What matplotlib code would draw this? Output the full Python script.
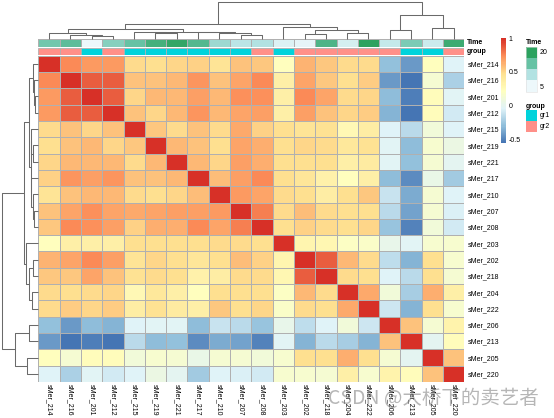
import numpy as np
import matplotlib
matplotlib.use("Agg")
import matplotlib.pyplot as plt
from matplotlib.colors import LinearSegmentedColormap, Normalize
from matplotlib.patches import Rectangle

# ---------------- data ----------------
samples = ["sMer_214", "sMer_216", "sMer_201", "sMer_212", "sMer_215", "sMer_219",
           "sMer_221", "sMer_217", "sMer_210", "sMer_207", "sMer_208", "sMer_203",
           "sMer_202", "sMer_218", "sMer_204", "sMer_222", "sMer_206", "sMer_213",
           "sMer_205", "sMer_220"]

# lower triangle of the correlation matrix (row i, columns 0..i-1), diagonal = 1
corr_lower = [
    [],
    [0.74],
    [0.70, 0.87],
    [0.69, 0.87, 0.86],
    [0.50, 0.57, 0.51, 0.57],
    [0.48, 0.57, 0.60, 0.51, 0.56],
    [0.51, 0.60, 0.61, 0.61, 0.50, 0.60],
    [0.52, 0.71, 0.68, 0.71, 0.57, 0.57, 0.60],
    [0.45, 0.57, 0.60, 0.61, 0.50, 0.48, 0.51, 0.58],
    [0.57, 0.66, 0.73, 0.66, 0.65, 0.66, 0.68, 0.68, 0.70],
    [0.56, 0.75, 0.72, 0.68, 0.53, 0.64, 0.64, 0.74, 0.66, 0.78],
    [0.22, 0.36, 0.36, 0.36, 0.47, 0.48, 0.48, 0.48, 0.50, 0.49, 0.48],
    [0.62, 0.66, 0.74, 0.68, 0.45, 0.51, 0.47, 0.43, 0.47, 0.59, 0.53, 0.30],
    [0.56, 0.56, 0.66, 0.57, 0.46, 0.49, 0.47, 0.33, 0.37, 0.50, 0.50, 0.29, 0.87],
    [0.50, 0.48, 0.50, 0.51, 0.28, 0.41, 0.36, 0.23, 0.48, 0.47, 0.47, 0.19, 0.60, 0.50],
    [0.49, 0.54, 0.51, 0.54, 0.37, 0.46, 0.38, 0.36, 0.55, 0.48, 0.51, 0.18, 0.50, 0.47, 0.65],
    [-0.29, -0.42, -0.31, -0.34, -0.03, -0.02, -0.02, -0.31, -0.11, -0.16, -0.27, 0.03,
     -0.15, -0.04, 0.11, -0.10],
    [-0.43, -0.56, -0.52, -0.55, -0.17, -0.31, -0.29, -0.47, -0.36, -0.40, -0.50, -0.02,
     -0.34, -0.17, -0.23, -0.33, 0.57],
    [0.23, 0.14, 0.24, 0.25, 0.10, 0.15, 0.13, 0.04, 0.13, 0.13, 0.11, 0.15, 0.47, 0.47,
     0.63, 0.47, 0.13, 0.0],
    [-0.03, -0.21, -0.02, -0.08, -0.03, 0.05, 0.0, -0.24, -0.03, -0.05, -0.08, 0.15, 0.15,
     0.14, 0.36, 0.15, 0.32, 0.24, 0.57],
]

time_values = [14, 16, 1, 12, 15, 19, 21, 17, 10, 7, 8, 3, 2, 18, 4, 22, 6, 13, 5, 20]
group_values = ["gr2", "gr2", "gr1", "gr2", "gr1", "gr1", "gr1", "gr1", "gr1", "gr1", "gr2",
                "gr1", "gr2", "gr2", "gr2", "gr2", "gr2", "gr1", "gr1", "gr2"]

# hierarchical clustering (same tree for rows and columns); leaves 0..19, nodes 20..38
link_left = [2, 1, 0, 5, 4, 9, 8, 7, 24, 22, 12, 14, 30, 11, 29, 16, 18, 35, 34]
link_right = [3, 20, 21, 6, 23, 10, 25, 26, 27, 28, 13, 15, 31, 32, 33, 17, 19, 36, 37]
link_height = [0.09, 0.107, 0.15, 0.15, 0.18, 0.10, 0.15, 0.18, 0.196, 0.26,
               0.125, 0.17, 0.24, 0.33, 0.39, 0.24, 0.29, 0.64, 1.0]

heat_colors = ["#4575B4", "#91BFDB", "#E0F3F8", "#FFFFBF", "#FEE090", "#FC8D59", "#D73027"]
time_colors = ["#EDF8FB", "#B2E2E2", "#66C2A4", "#2CA25F"]
group_colors = {"gr1": "#00D3DB", "gr2": "#FF9089"}

# ---------------- build ----------------
n = len(samples)
M = np.eye(n)
for i, row in enumerate(corr_lower):
    for j, v in enumerate(row):
        M[i, j] = v
        M[j, i] = v

W, H = 554, 418
fig = plt.figure(figsize=(W / 100, H / 100), dpi=100)
plt.rcParams['font.family'] = ['Liberation Sans', 'DejaVu Sans']
FS = 5
GRID = "#B0B0B0"


def ax_px(x0, y0, x1, y1):
    return fig.add_axes([x0 / W, 1 - y1 / H, (x1 - x0) / W, (y1 - y0) / H])


HX0, HX1, HY0, HY1 = 38.3, 464.3, 55.7, 382.0

cmap = LinearSegmentedColormap.from_list("rdylbu", heat_colors, N=100)
vmin, vmax = M.min(), M.max()

# heatmap
ax = ax_px(HX0, HY0, HX1, HY1)
mesh = ax.pcolormesh(np.arange(n + 1), np.arange(n + 1), M, cmap=cmap, vmin=vmin, vmax=vmax,
                     edgecolors=GRID, linewidth=0.6)
ax.set_xlim(0, n)
ax.set_ylim(n, 0)
for s in ax.spines.values():
    s.set_visible(False)
ax.set_xticks(np.arange(n) + 0.5)
ax.set_xticklabels(samples, rotation=-90, fontsize=FS, va="top", ha="center")
ax.yaxis.tick_right()
ax.set_yticks(np.arange(n) + 0.5)
ax.set_yticklabels(samples, fontsize=FS)
ax.tick_params(length=0, pad=1.5)
ax.tick_params(axis="y", pad=2.2)

# annotation bars
tnorm = Normalize(min(time_values), max(time_values))
tcmap = LinearSegmentedColormap.from_list("bugn4", time_colors, N=100)
ax_t = ax_px(HX0, 39.3, HX1, 46.5)
ax_t.pcolormesh(np.arange(n + 1), [0, 1], np.array([time_values]), cmap=tcmap, norm=tnorm,
                edgecolors=GRID, linewidth=0.6)
ax_g = ax_px(HX0, 47.6, HX1, 54.6)
for i, g in enumerate(group_values):
    ax_g.add_patch(Rectangle((i, 0), 1, 1, facecolor=group_colors[g], edgecolor=GRID, lw=0.6))
for a, lab in ((ax_t, "Time"), (ax_g, "group")):
    a.set_xlim(0, n)
    a.set_ylim(0, 1)
    a.axis("off")
    a.text(n + 0.12, 0.5, lab, fontsize=FS, fontweight="bold", va="center", ha="left",
           transform=a.transData)

# dendrograms
pos = {i: (i + 0.5, 0.0) for i in range(n)}
segs = []
for k, (a_, b_, h) in enumerate(zip(link_left, link_right, link_height)):
    xa, ha = pos[a_]
    xb, hb = pos[b_]
    segs.append(([xa, xa, xb, xb], [ha, h, h, hb]))
    pos[n + k] = ((xa + xb) / 2, h)

top = max(link_height) * 1.046
DC = "#6A6A6A"
ax_cd = ax_px(HX0, 0, HX1, 39.0)
ax_rd = ax_px(0, HY0, 38.0, HY1)
for xs, hs in segs:
    ax_cd.plot(xs, hs, color=DC, lw=0.75, clip_on=False, solid_capstyle="butt")
    ax_rd.plot(hs, xs, color=DC, lw=0.75, clip_on=False, solid_capstyle="butt")
ax_cd.set_xlim(0, n)
ax_cd.set_ylim(0, top)
ax_cd.axis("off")
ax_rd.set_ylim(n, 0)
ax_rd.set_xlim(top, 0)
ax_rd.axis("off")

# colour legend
cax = ax_px(501, 38.3, 506, 143.3)
cb = fig.colorbar(mesh, cax=cax)
cb.outline.set_visible(False)
cb.set_ticks([-0.5, 0, 0.5, 1])
cb.set_ticklabels(["-0.5", "0", "0.5", "1"])
cax.tick_params(length=0, labelsize=FS, pad=2)

# annotation legends
ov = fig.add_axes([0, 0, 1, 1])
ov.set_xlim(0, W)
ov.set_ylim(H, 0)
ov.axis("off")
ov.patch.set_alpha(0)
ov.text(525.7, 42, "Time", fontsize=FS, fontweight="bold", va="center", ha="left")
bh = 45 / len(time_colors)
for k, c in enumerate(reversed(time_colors)):
    ov.add_patch(Rectangle((525.7, 46.7 + k * bh), 11.3, bh, facecolor=c, edgecolor="none"))
ov.add_patch(Rectangle((525.7, 46.7), 11.3, 45, facecolor="none", edgecolor="#DDDDDD", lw=0.4))
ov.text(539.5, 53, "20", fontsize=FS, va="center", ha="left")
ov.text(539.5, 87.5, "5", fontsize=FS, va="center", ha="left")

ov.text(525.7, 106, "group", fontsize=FS, fontweight="bold", va="center", ha="left")
for k, g in enumerate(["gr1", "gr2"]):
    ov.add_patch(Rectangle((525.7, 110 + k * 10.8), 11.3, 10.8, facecolor=group_colors[g],
                           edgecolor="none"))
    ov.text(539.5, 115.4 + k * 10.8, g, fontsize=FS, va="center", ha="left")

# watermark (present in the reference image)
ov.text(328, 399, "CSDN @大桥下的卖艺者", fontsize=14, color="#7A7A7A", alpha=0.55,
        va="center", ha="left", family=["Noto Sans CJK SC", "DejaVu Sans"])

fig.savefig("out.png", dpi=100)
